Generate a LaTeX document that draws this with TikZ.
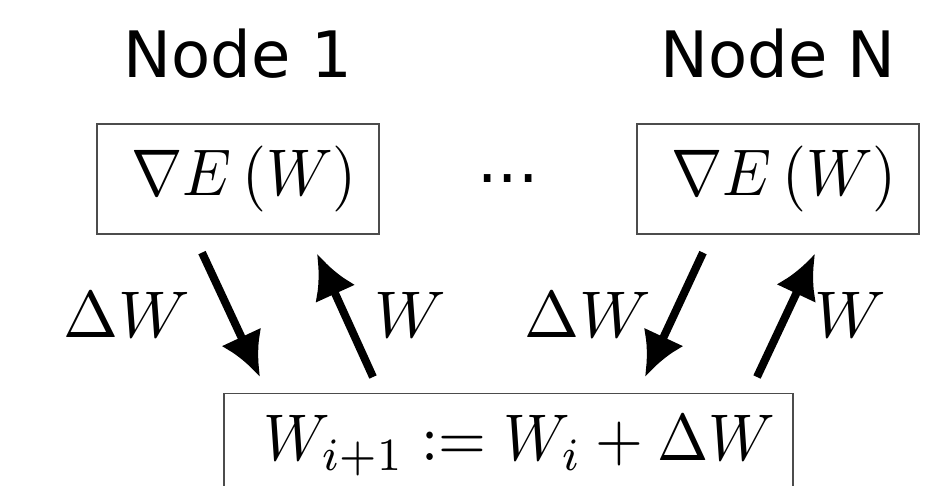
\documentclass[tikz,border=0pt]{standalone}
\usepackage{graphicx}
\usepackage{fontspec}
\newfontfamily\titlefont{DejaVu Sans}
\usetikzlibrary{positioning,arrows.meta,calc}
\newcommand{\scaledmath}[1]{\scalebox{6.6}{$#1$}}
\newcommand{\boxmath}[2][2pt]{\scalebox{6.15}[6.6]{$\kern#1#2$}}

\begin{document}
\begin{tikzpicture}[x=1pt,y=1pt,
  box/.style={draw=black!70,line width=1.2pt,minimum width=282pt,minimum height=110pt,inner sep=0pt},
  title/.style={font=\titlefont\fontsize{64}{72}\selectfont,anchor=base},
  flow/.style={-{Latex[length=44pt,width=44pt]},line width=8pt}]

\useasboundingbox (0,0) rectangle (928,485);
\clip (0,0) rectangle (928,485);

\node (grad1) [box] at (238,306) {\boxmath{\nabla E\left(W\right)}};
\node (gradN) [box] at (778,306) {\boxmath{\nabla E\left(W\right)}};
\node (update) [box,minimum width=569pt,minimum height=105pt,anchor=north] at (508.5,92) {\boxmath[3.5pt]{W_{i+1} := W_i + \Delta W}};

\node (title1) [title] at ([yshift=46pt]grad1.north) {Node 1};
\node (titleN) [title] at ([yshift=46pt]gradN.north) {Node N};
\node (dots) [title] at ($(grad1)!0.5!(gradN)+(0,-4)$) {...};

\draw[flow] ([xshift=-36pt,yshift=-18pt]grad1.south) -- ([xshift=-248.5pt,yshift=16pt]update.north);
\draw[flow] ([xshift=-135.5pt,yshift=16pt]update.north) -- ([xshift=79pt,yshift=-19pt]grad1.south);
\draw[flow] ([xshift=-75pt,yshift=-18pt]gradN.south) -- ([xshift=136.5pt,yshift=16pt]update.north);
\draw[flow] ([xshift=248.5pt,yshift=16pt]update.north) -- ([xshift=37pt,yshift=-19pt]gradN.south);

\node (dw1) [anchor=base] at (126.5,148) {\scaledmath{\Delta W}};
\node (w1) [anchor=base] at (410,148) {\scaledmath{W}};
\node (dwN) [anchor=base] at (588,148) {\scaledmath{\Delta W}};
\node (wN) [anchor=base] at (850,148) {\scaledmath{W}};

\end{tikzpicture}
\end{document}
